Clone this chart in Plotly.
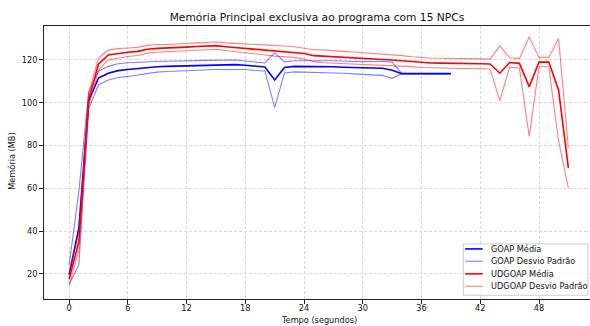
import plotly.graph_objects as go

# ---- data ----
goap_t = list(range(0, 40))
goap_mean = [19.5, 41.5, 101.0, 111.5, 113.8, 115.0, 115.5, 116.0, 116.4, 116.8,
             117.0, 117.1, 117.3, 117.5, 117.6, 117.7, 117.7, 117.8, 117.5, 117.0,
             116.7, 110.6, 116.5, 117.0, 117.0, 117.0, 116.9, 116.8, 116.6, 116.4,
             116.2, 116.2, 116.1, 115.2, 113.6, 113.6, 113.6, 113.6, 113.6, 113.6]
goap_std = [4.5, 17.2, 4.0, 3.2, 3.2, 3.2, 3.2, 3.0, 2.7, 2.5,
            2.4, 2.3, 2.3, 2.2, 2.2, 2.2, 2.2, 2.2, 2.0, 1.9,
            1.9, 12.8, 2.6, 2.6, 2.7, 2.7, 2.7, 2.8, 2.8, 2.9,
            3.0, 3.1, 3.3, 3.8, 0.0, 0.0, 0.0, 0.0, 0.0, 0.0]

udgoap_t = list(range(0, 52))
udgoap_mean = [17.5, 35.0, 101.5, 118.0, 122.3, 123.1, 123.6, 124.0, 125.0, 125.4,
               125.5, 125.6, 126.0, 126.3, 126.4, 126.7, 126.2, 125.8, 125.4, 125.1,
               124.7, 124.3, 124.0, 123.7, 123.0, 122.0, 121.7, 121.5, 121.2, 121.0,
               120.8, 120.5, 120.2, 120.0, 119.6, 119.2, 118.8, 118.6, 118.5, 118.5,
               118.3, 118.3, 118.2, 118.1, 113.8, 118.8, 118.4, 107.5, 119.0, 119.0,
               106.0, 69.5]
udgoap_std = [3.0, 4.0, 3.0, 2.8, 2.3, 2.2, 2.0, 1.9, 1.8, 1.8,
              1.7, 1.7, 1.7, 1.7, 1.7, 1.7, 1.8, 2.0, 2.2, 2.3,
              2.4, 2.5, 2.5, 2.5, 2.6, 2.8, 3.0, 3.0, 2.8, 2.7,
              2.6, 2.6, 2.5, 2.5, 2.4, 2.3, 2.3, 2.3, 2.3, 2.3,
              2.3, 2.3, 2.3, 2.3, 12.8, 2.2, 2.2, 23.2, 2.2, 2.2,
              24.0, 9.3]

x_ticks = [0, 6, 12, 18, 24, 30, 36, 42, 48]
y_ticks = [20, 40, 60, 80, 100, 120]

series_labels = ["GOAP Média", "GOAP Desvio Padrão", "UDGOAP Média", "UDGOAP Desvio Padrão"]
title_text = "Memória Principal exclusiva ao programa com 15 NPCs"
x_label = "Tempo (segundos)"
y_label = "Memória (MB)"

FONT = "DejaVu Sans"
TXT = "#111111"
BLUE = "rgb(0,0,255)"
BLUE_L = "rgba(0,0,255,0.5)"
RED = "rgb(255,0,0)"
RED_L = "rgba(255,0,0,0.5)"
W_MEAN = 1.6
W_STD = 1.1


def band(mean, std, sign):
    return [m + sign * s for m, s in zip(mean, std)]


fig = go.Figure()

fig.add_trace(go.Scatter(x=goap_t, y=goap_mean, mode="lines", name=series_labels[0],
                         line=dict(color=BLUE, width=W_MEAN)))
fig.add_trace(go.Scatter(x=goap_t, y=band(goap_mean, goap_std, 1), mode="lines",
                         name=series_labels[1], line=dict(color=BLUE_L, width=W_STD)))
fig.add_trace(go.Scatter(x=goap_t, y=band(goap_mean, goap_std, -1), mode="lines",
                         name=series_labels[1], line=dict(color=BLUE_L, width=W_STD)))
fig.add_trace(go.Scatter(x=udgoap_t, y=udgoap_mean, mode="lines", name=series_labels[2],
                         line=dict(color=RED, width=W_MEAN)))
fig.add_trace(go.Scatter(x=udgoap_t, y=band(udgoap_mean, udgoap_std, 1), mode="lines",
                         name=series_labels[3], line=dict(color=RED_L, width=W_STD)))
fig.add_trace(go.Scatter(x=udgoap_t, y=band(udgoap_mean, udgoap_std, -1), mode="lines",
                         name=series_labels[3], line=dict(color=RED_L, width=W_STD)))

axis_common = dict(
    showline=True, linecolor="#222", linewidth=1, mirror=True,
    ticks="outside", ticklen=4, tickcolor="#222", tickwidth=1,
    showgrid=True, gridcolor="#cfcfcf", griddash="3px,2px", gridwidth=0.8,
    zeroline=False, automargin=False,
    tickfont=dict(family=FONT, size=8.2, color=TXT),
)

FW, FH = 590, 326
ML, MT, MB = 44, 26, 26.5

fig.update_layout(
    width=FW, height=FH,
    margin=dict(l=ML, r=0, t=MT, b=MB, pad=0),
    paper_bgcolor="white", plot_bgcolor="white",
    font=dict(family=FONT, size=8.2, color=TXT),
    title=dict(text=title_text, xref="paper", x=0.5, xanchor="center",
               yref="container", y=1 - 17.5 / FH, yanchor="middle",
               font=dict(family=FONT, size=10.7, color=TXT)),
    xaxis=dict(range=[-2.564, 53.21], tickvals=x_ticks, ticktext=[str(v) for v in x_ticks],
               ticklabelstandoff=-3, **axis_common),
    yaxis=dict(range=[8.24, 135.87], tickvals=y_ticks, ticktext=[str(v) for v in y_ticks],
               **axis_common),
    showlegend=False,
    hovermode=False,
)

# axis titles
fig.add_annotation(text=x_label, xref="paper", yref="paper", x=0.5033, y=-0.0786,
                   xanchor="center", yanchor="middle", showarrow=False,
                   font=dict(family=FONT, size=8.2, color=TXT))
fig.add_annotation(text=y_label, xref="paper", yref="paper", x=-0.0586, y=0.5027,
                   xanchor="center", yanchor="middle", showarrow=False, textangle=-90,
                   font=dict(family=FONT, size=8.2, color=TXT))

# legend box (matplotlib-like compact legend)
fig.add_shape(type="rect", xref="paper", yref="paper", x0=0.768, x1=0.9963, y0=0.0139, y1=0.2018,
              fillcolor="rgba(255,255,255,0.8)", line=dict(color="#cccccc", width=1), layer="above")
legend_styles = [(BLUE, W_MEAN), (BLUE_L, W_STD), (RED, W_MEAN), (RED_L, W_STD)]
row_y = [0.1835, 0.1382, 0.0921, 0.0468]
for label, (col, w), ry in zip(series_labels, legend_styles, row_y):
    fig.add_shape(type="line", xref="paper", yref="paper", x0=0.7714, x1=0.8035, y0=ry, y1=ry,
                  line=dict(color=col, width=w), layer="above")
    fig.add_annotation(text=label, xref="paper", yref="paper", x=0.815, y=ry,
                       xanchor="left", yanchor="middle", showarrow=False,
                       font=dict(family=FONT, size=8.2, color=TXT))

# remove the browser's default page margin so the 590x326 figure fills the window
fig.write_html("out.html",
               config={"displayModeBar": False, "staticPlot": True},
               post_script="document.body.style.margin='0';document.body.style.overflow='hidden';")
